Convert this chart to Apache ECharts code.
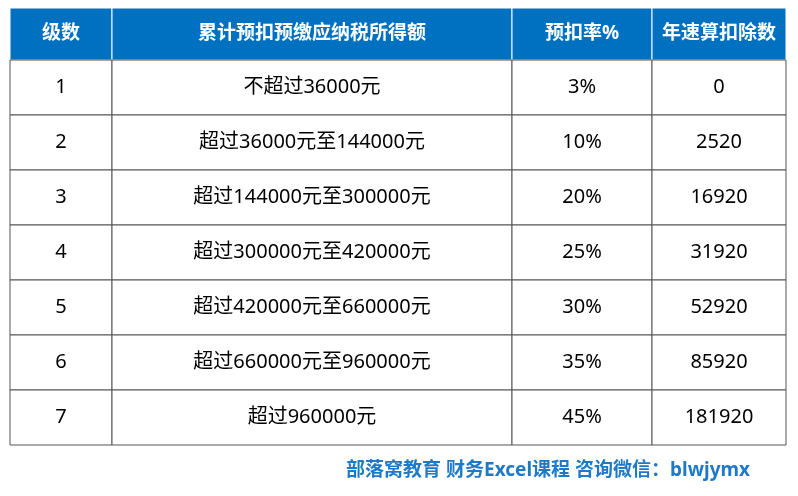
<!DOCTYPE html>
<html><head><meta charset="utf-8">
<script src="https://cdn.jsdelivr.net/npm/echarts@6/dist/echarts.min.js"></script>
<style>html,body{margin:0;padding:0;background:#fff}#c{width:798px;height:496px}</style>
</head><body><div id="c"></div>
<script>
// 表头与各列数据
var headers = ['级数', '累计预扣预缴应纳税所得额', '预扣率%', '年速算扣除数'];
var levels = ['1', '2', '3', '4', '5', '6', '7'];
var ranges = ['不超过36000元', '超过36000元至144000元', '超过144000元至300000元', '超过300000元至420000元',
  '超过420000元至660000元', '超过660000元至960000元', '超过960000元'];
var rates = ['3%', '10%', '20%', '25%', '30%', '35%', '45%'];
var deductions = ['0', '2520', '16920', '31920', '52920', '85920', '181920'];
var footer = '部落窝教育 财务Excel课程 咨询微信：blwjymx';

var chart = echarts.init(document.getElementById('c'));
var colX = [10, 112, 512, 652, 786];
var top0 = 8, headH = 52, rowH = 55;
var font = '"Noto Sans","Noto Sans CJK SC",sans-serif';
var els = [];

function cell(x0, x1, y0, h, txt, head) {
  els.push({
    type: 'rect', shape: {x: x0, y: y0, width: x1 - x0, height: h},
    style: {fill: head ? '#0070c0' : '#fff', stroke: head ? '#fff' : '#555', lineWidth: 1}
  });
  els.push({
    type: 'text', x: (x0 + x1) / 2, y: y0 + h / 2,
    style: {text: txt, fill: head ? '#fff' : '#000', font: (head ? 'bold 19px ' : '20px ') + font,
      align: 'center', verticalAlign: 'middle'}
  });
}

headers.forEach(function (h, i) { cell(colX[i], colX[i + 1], top0, headH, h, true); });
var cols = [levels, ranges, rates, deductions];
levels.forEach(function (_, r) {
  cols.forEach(function (col, i) {
    cell(colX[i], colX[i + 1], top0 + headH + r * rowH, rowH, col[r], false);
  });
});
els.push({
  type: 'text', x: 750, y: 471,
  style: {text: footer, fill: '#1e7ac8', font: 'bold 19px ' + font, align: 'right', verticalAlign: 'middle'}
});

chart.setOption({animation: false, graphic: {elements: els}});
</script></body></html>
